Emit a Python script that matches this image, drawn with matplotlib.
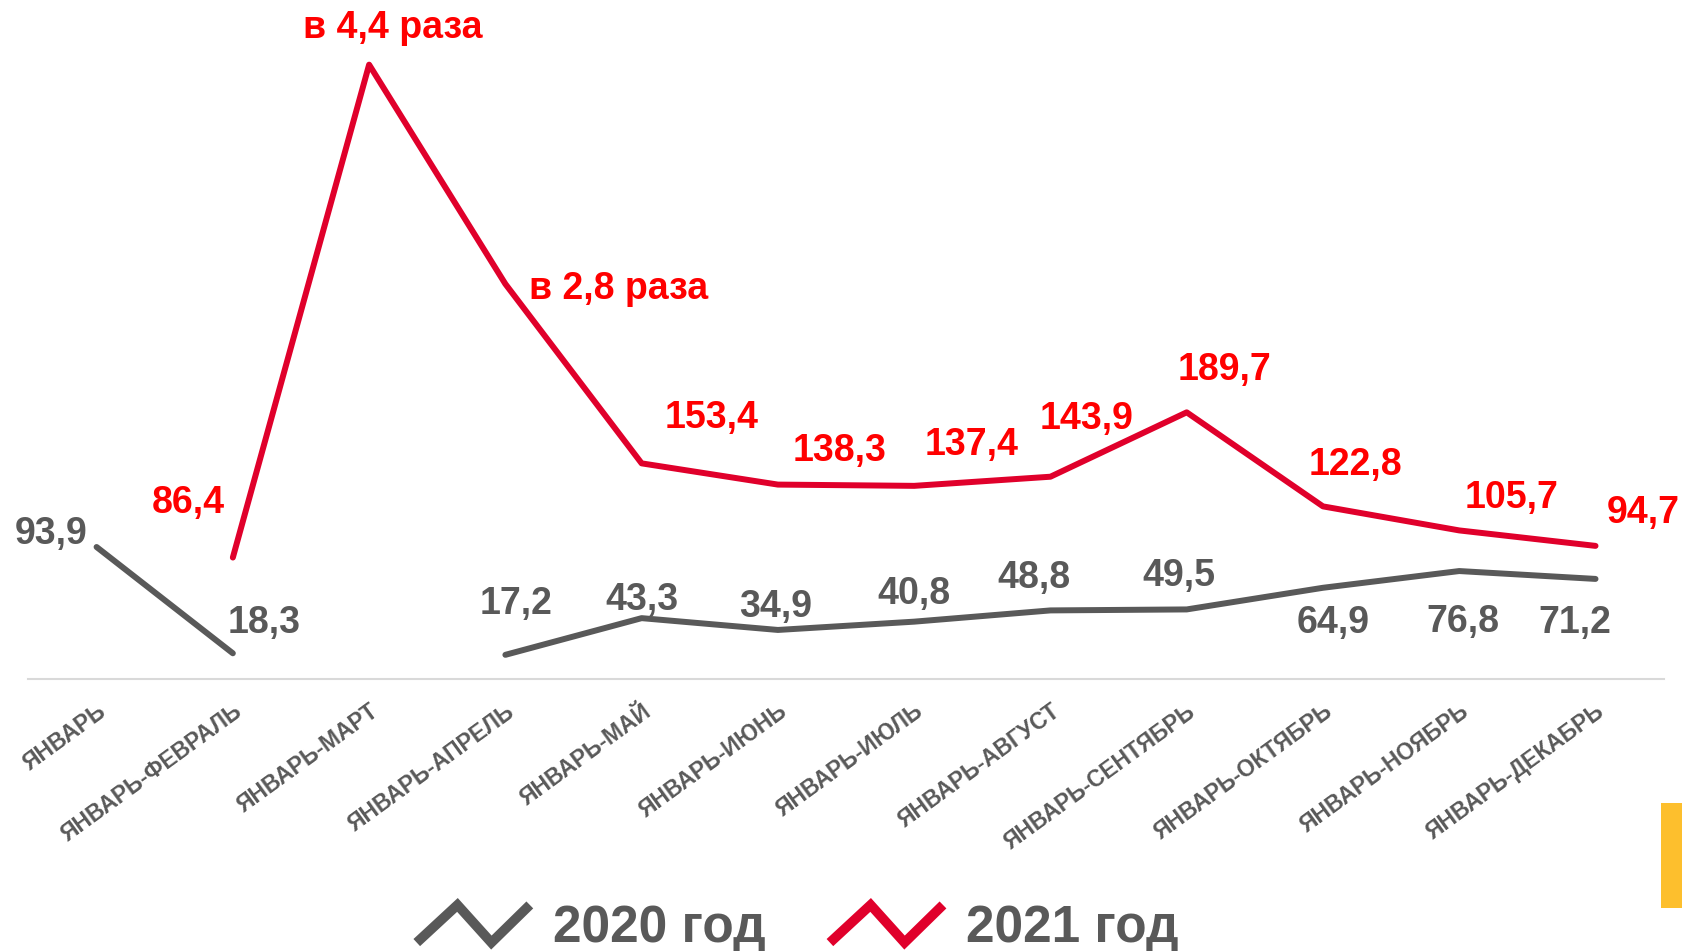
import numpy as np
import matplotlib
matplotlib.use("Agg")
import matplotlib.pyplot as plt
from matplotlib.lines import Line2D
from matplotlib.legend_handler import HandlerBase
from matplotlib.patches import Rectangle

plt.rcParams['font.family'] = ['Liberation Sans', 'DejaVu Sans']
plt.rcParams['font.weight'] = 'bold'

# Data
months = ["ЯНВАРЬ", "ЯНВАРЬ-ФЕВРАЛЬ", "ЯНВАРЬ-МАРТ", "ЯНВАРЬ-АПРЕЛЬ", "ЯНВАРЬ-МАЙ",
          "ЯНВАРЬ-ИЮНЬ", "ЯНВАРЬ-ИЮЛЬ", "ЯНВАРЬ-АВГУСТ", "ЯНВАРЬ-СЕНТЯБРЬ",
          "ЯНВАРЬ-ОКТЯБРЬ", "ЯНВАРЬ-НОЯБРЬ", "ЯНВАРЬ-ДЕКАБРЬ"]
y2020 = [93.9, 18.3, np.nan, 17.2, 43.3, 34.9, 40.8, 48.8, 49.5, 64.9, 76.8, 71.2]
y2021 = [np.nan, 86.4, 437, 281, 153.4, 138.3, 137.4, 143.9, 189.7, 122.8, 105.7, 94.7]
labels2020 = ["93,9", "18,3", "", "17,2", "43,3", "34,9", "40,8", "48,8", "49,5", "64,9", "76,8", "71,2"]
labels2021 = ["", "86,4", "в 4,4 раза", "в 2,8 раза", "153,4", "138,3", "137,4", "143,9",
              "189,7", "122,8", "105,7", "94,7"]

# label offsets in pixels (dx, dy)
off2020 = [(-45, 13), (31, 30), (0, 0), (11, 51), (0, 18), (-2, 23), (0, 28), (-17, 32),
           (-8, 33), (10, -35), (4, -51), (-21, -44)]
off2021 = [(0, 0), (-45, 55), (24, 37), (113, -5), (70, 45), (62, 34), (57, 41), (36, 58),
           (38, 42), (32, 41), (52, 32), (48, 33)]

GRAY = "#595959"
RED_LINE = "#E0002B"
RED_TEXT = "#FF0000"

fig = plt.figure(figsize=(16.83, 9.51), dpi=100)
ax = fig.add_axes([0.0169, 0.286, 0.9716, 0.714])

x = np.arange(len(months))
ax.plot(x, y2020, color=GRAY, lw=4.3, solid_capstyle='round', solid_joinstyle='round', clip_on=False)
ax.plot(x, y2021, color=RED_LINE, lw=4.3, solid_capstyle='round', solid_joinstyle='round', clip_on=False)

for i in range(len(months)):
    if labels2020[i]:
        ax.annotate(labels2020[i], (x[i], y2020[i]), xytext=off2020[i], textcoords='offset pixels',
                    ha='center', va='center', fontsize=27, color=GRAY, fontweight='bold')
    if labels2021[i]:
        ax.annotate(labels2021[i], (x[i], y2021[i]), xytext=off2021[i], textcoords='offset pixels',
                    ha='center', va='center', fontsize=27, color=RED_TEXT, fontweight='bold')

ax.set_xlim(-0.5, len(months) - 0.5)
ax.set_ylim(0, 483)
for s in ['top', 'right', 'left']:
    ax.spines[s].set_visible(False)
ax.spines['bottom'].set_color("#D9D9D9")
ax.spines['bottom'].set_linewidth(1.5)
ax.set_yticks([])
ax.set_xticks(x)
ax.set_xticklabels(months, rotation=36, ha='right', rotation_mode='anchor',
                   fontsize=16.5, color=GRAY, fontweight='bold')
ax.tick_params(axis='x', length=0, pad=15)
ax.patch.set_visible(False)


class ZigHandler(HandlerBase):
    def create_artists(self, legend, orig_handle, xdescent, ydescent, width, height, fontsize, trans):
        x0 = -xdescent
        y0 = -ydescent
        xs = [x0, x0 + 0.36 * width, x0 + 0.66 * width, x0 + width]
        ys = [y0, y0 + height, y0, y0 + height]
        ln = Line2D(xs, ys, color=orig_handle.get_color(), lw=7, solid_joinstyle='miter',
                    solid_capstyle='butt', transform=trans)
        return [ln]


h1 = Line2D([], [], color=GRAY)
h2 = Line2D([], [], color=RED_LINE)
leg = fig.legend([h1, h2], ["2020 год", "2021 год"], handler_map={Line2D: ZigHandler()},
                 loc='center', bbox_to_anchor=(0.474, 0.024), ncol=2, frameon=False,
                 prop={'size': 37, 'weight': 'bold'}, handlelength=2.2, handleheight=0.75,
                 handletextpad=0.45, columnspacing=1.25, labelcolor=GRAY)

fig.patches.append(Rectangle((0.987, 0.0452), 0.02, 0.110, transform=fig.transFigure,
                             facecolor="#FDBF2D", edgecolor='none'))

fig.savefig("out.png", dpi=100)
